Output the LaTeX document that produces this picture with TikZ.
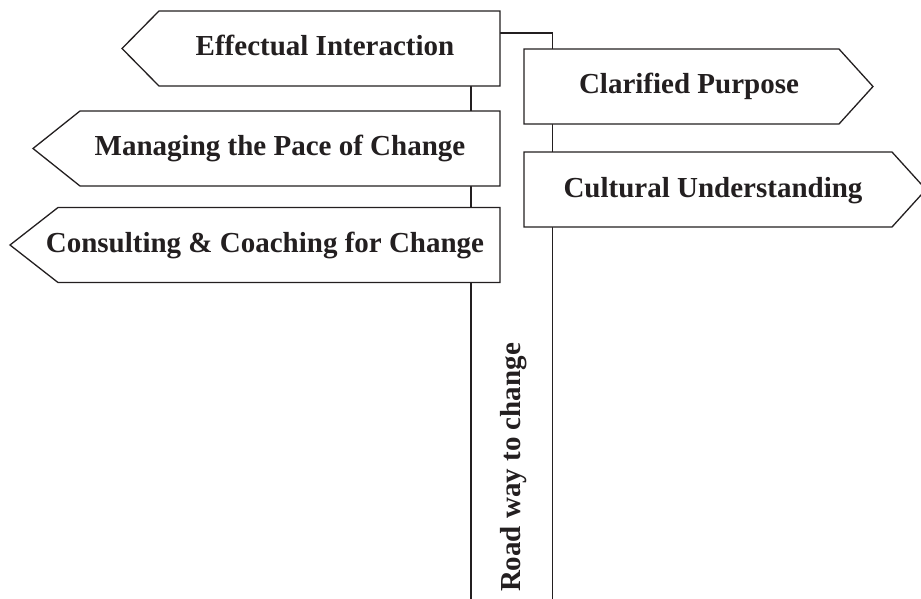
\documentclass[tikz,border=0pt]{standalone}
\usepackage{fontspec}
\setmainfont{Liberation Serif}
\usepackage{tikz}
\definecolor{ink}{HTML}{231F20}
\tikzstyle{board}=[rectangle,inner sep=0pt,outer sep=0pt,minimum height=75pt]
\tikzstyle{sign}=[draw=ink,line width=1.3pt,line join=miter,fill=white]
\tikzstyle{pole}=[draw=ink,line width=1.3pt]
\tikzstyle{signtext}=[inner sep=0pt,anchor=base,text=ink,font=\fontsize{29}{34}\selectfont\bfseries]

\begin{document}
\begin{tikzpicture}[x=1pt,y=-1pt]
    \useasboundingbox (0,0) rectangle (921,598);
    \clip (0,0) rectangle (921,598);
    % boards
    \node[board,minimum width=341pt] at (329.5,48.5) (eff) {};
    \node[board,minimum width=420pt] at (290,148.5) (man) {};
    \node[board,minimum width=442pt] at (279,245) (cons) {};
    \node[board,minimum width=315pt] at (681.5,86.5) (clar) {};
    \node[board,minimum width=368pt] at (708,189.5) (cult) {};
    \coordinate (poleL) at (471,600);
    \coordinate (poleR) at (552.5,600);
    \coordinate (top) at (552.5,33);
    % pole
    \draw[pole] (top -| eff.east) -- (top) -- (top |- clar.north);
    \draw[pole] (poleL |- eff.south) -- (poleL |- man.north);
    \draw[pole] (poleL |- man.south) -- (poleL |- cons.north);
    \draw[pole] (poleL |- cons.south) -- (poleL);
    \draw[pole] (poleR |- clar.south) -- (poleR |- cult.north);
    \draw[pole] (poleR |- cult.south) -- (poleR);
    % signs
    \draw[sign] (eff.north east) -- (eff.north west) -- ([xshift=-37pt]eff.west) -- (eff.south west) -- (eff.south east) -- cycle;
    \draw[sign] (man.north east) -- (man.north west) -- ([xshift=-47pt]man.west) -- (man.south west) -- (man.south east) -- cycle;
    \draw[sign] (cons.north east) -- (cons.north west) -- ([xshift=-48pt]cons.west) -- (cons.south west) -- (cons.south east) -- cycle;
    \draw[sign] (clar.north west) -- (clar.north east) -- ([xshift=34pt]clar.east) -- (clar.south east) -- (clar.south west) -- cycle;
    \draw[sign] (cult.north west) -- (cult.north east) -- ([xshift=34pt]cult.east) -- (cult.south east) -- (cult.south west) -- cycle;
    % texts
    \node[signtext] at (325,55) (t-eff) {Effectual Interaction};
    \node[signtext] at (280,155) (t-man) {Managing the Pace of Change};
    \node[signtext] at (265,252) (t-cons) {Consulting \& Coaching for Change};
    \node[signtext] at (689,93) (t-clar) {Clarified Purpose};
    \node[signtext] at (713,197) (t-cult) {Cultural Understanding};
    \node[signtext,rotate=90] at (520,467.5) (t-road) {Road way to change};
\end{tikzpicture}
\end{document}
